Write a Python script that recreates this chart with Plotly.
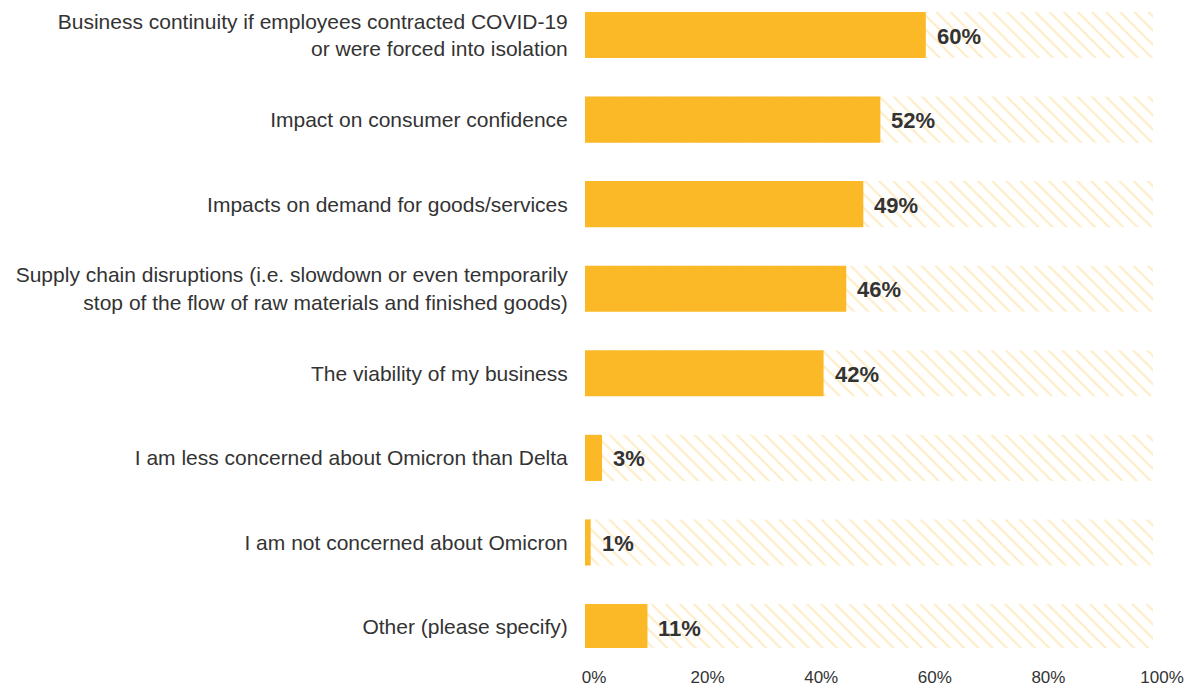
import plotly.graph_objects as go

categories = [
    "Business continuity if employees contracted COVID-19<br>or were forced into isolation",
    "Impact on consumer confidence",
    "Impacts on demand for goods/services",
    "Supply chain disruptions (i.e. slowdown or even temporarily<br>stop of the flow of raw materials and finished goods)",
    "The viability of my business",
    "I am less concerned about Omicron than Delta",
    "I am not concerned about Omicron",
    "Other (please specify)",
]
values = [60, 52, 49, 46, 42, 3, 1, 11]
full_scale = [100] * len(categories)
tick_vals = [0, 20, 40, 60, 80, 100]
tick_text = ["0%", "20%", "40%", "60%", "80%", "100%"]

positions = list(range(len(categories)))
BAR = "#FBB827"
HATCH = "#FCD888"
TEXT = "#333333"
FONT = "Liberation Sans"

fig = go.Figure()

# hatched 100% track behind each bar
fig.add_trace(go.Bar(
    y=positions, x=full_scale, orientation="h", width=0.545,
    marker=dict(color="white", line=dict(width=0),
                pattern=dict(shape="\\", fgcolor=HATCH, bgcolor="white",
                             size=10, solidity=0.2)),
    hoverinfo="skip", showlegend=False,
))
# actual share
fig.add_trace(go.Bar(
    y=positions, x=values, orientation="h", width=0.545,
    marker=dict(color=BAR, line=dict(width=0)),
    showlegend=False,
))

for p, v in zip(positions, values):
    fig.add_annotation(
        x=v, y=p, text=f"<b>{v}%</b>", showarrow=False,
        xanchor="left", yanchor="middle", xshift=9, yshift=-1,
        font=dict(family=FONT, size=22, color=TEXT),
    )

fig.update_layout(
    width=1189, height=688,
    margin=dict(l=585, r=36, t=0, b=40),
    barmode="overlay",
    plot_bgcolor="white", paper_bgcolor="white",
    font=dict(family=FONT, size=21, color=TEXT),
    xaxis=dict(range=[0, 100], tickvals=tick_vals, ticktext=tick_text,
               showgrid=False, zeroline=False, showline=False,
               ticks="outside", ticklen=14, tickcolor="rgba(0,0,0,0)",
               tickfont=dict(size=17, color=TEXT), ticklabelshift=9,
               automargin=False),
    yaxis=dict(range=[7.248, -0.414], tickvals=positions, ticktext=categories,
               showgrid=False, zeroline=False, showline=False,
               ticks="outside", ticklen=12, tickcolor="rgba(0,0,0,0)",
               tickfont=dict(size=21, color=TEXT), automargin=False),
)

fig.write_html("out.html")
